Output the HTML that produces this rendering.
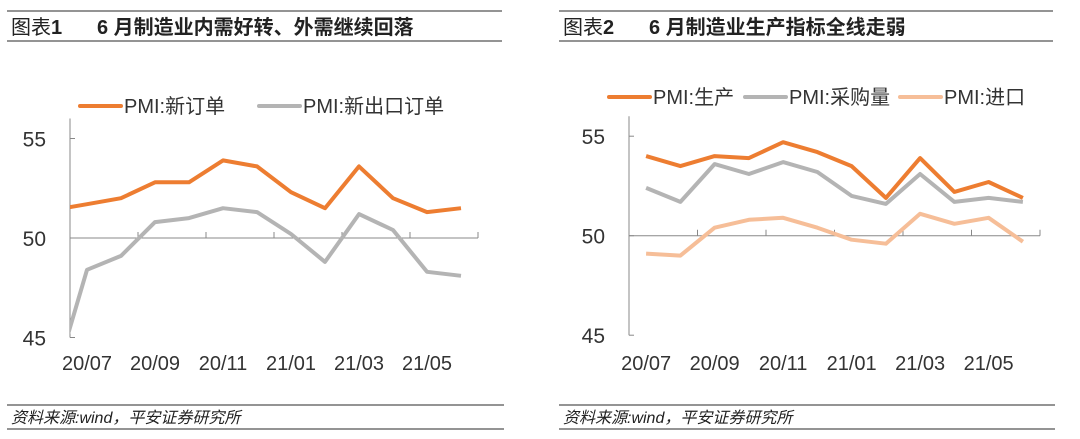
<!DOCTYPE html>
<html><head><meta charset="utf-8"><style>
body{margin:0;background:#fff;width:1080px;height:439px;overflow:hidden;font-family:"Liberation Sans","Noto Sans CJK SC",sans-serif}
svg{position:absolute;left:0;top:0}
</style></head><body>
<svg width="1080" height="439" xmlns="http://www.w3.org/2000/svg">
<g id="frame"></g>
<g id="c1"></g><g id="c2"></g>
</svg>
<script>
const categories=["20/06","20/07","20/08","20/09","20/10","20/11","20/12","21/01","21/02","21/03","21/04","21/05","21/06"];
const tickLabels=["20/07","20/09","20/11","21/01","21/03","21/05"];
const yTicks=[45,50,55];
const newOrders=[51.4,51.7,52.0,52.8,52.8,53.9,53.6,52.3,51.5,53.6,52.0,51.3,51.5];
const newExportOrders=[42.6,48.4,49.1,50.8,51.0,51.5,51.3,50.2,48.8,51.2,50.4,48.3,48.1];
const production=[null,54.0,53.5,54.0,53.9,54.7,54.2,53.5,51.9,53.9,52.2,52.7,51.9];
const purchases=[null,52.4,51.7,53.6,53.1,53.7,53.2,52.0,51.6,53.1,51.7,51.9,51.7];
const imports=[null,49.1,49.0,50.4,50.8,50.9,50.4,49.8,49.6,51.1,50.6,50.9,49.7];
const NS="http://www.w3.org/2000/svg";
function mk(p,t,a){const e=document.createElementNS(NS,t);for(const k in a)e.setAttribute(k,a[k]);p.appendChild(e);return e;}
const F=document.getElementById('frame');
[[7,502,"图表","1","6 月制造业内需好转、外需继续回落",1],[559,1053,"图表","2","6 月制造业生产指标全线走弱",2]].forEach(([x0,x1,a,num,b,n])=>{
  let l=mk(F,'line',{x1:x0,x2:x1,y1:11,y2:11,stroke:'#555','stroke-width':1.2});
  
  
  l=mk(F,'line',{x1:x0,x2:x1,y1:41,y2:41,stroke:'#555','stroke-width':1.2});
  
  
  let t=mk(F,'text',{x:x0+4,y:34,'font-size':20,fill:'#222'});
  t.innerHTML=a+'<tspan font-weight="bold">'+num+'</tspan>';
  
  
  t=mk(F,'text',{x:x0+90,y:34,'font-size':20,'font-weight':'bold',fill:'#222'});t.textContent=b;
  
  
  l=mk(F,'line',{x1:x0,x2:x1+2,y1:405,y2:405,stroke:'#555','stroke-width':1.2});
  
  
  l=mk(F,'line',{x1:x0,x2:x1+2,y1:429,y2:429,stroke:'#555','stroke-width':1.2});
  
  
  t=mk(F,'text',{x:x0+4,y:423,'font-size':16,'font-style':'italic',fill:'#222'});t.textContent="资料来源:wind，平安证券研究所";
  
  
});
function chart(g,o){
  const cw=(o.x1-o.x0)/12;
  const X=i=>o.x0+cw*(i-0.5);
  const Y=v=>o.y50-(v-50)*o.ppu;
  mk(g,'defs',{}).innerHTML=`<clipPath id="cl${o.id}"><rect x="${o.x0}" y="0" width="${o.x1-o.x0+5}" height="439"/></clipPath>`;
  let a=mk(g,'line',{x1:o.x0,x2:o.x0,y1:Y(55)-20,y2:Y(45),stroke:'#888','stroke-width':1});
  
  
  a=mk(g,'line',{x1:o.x0,x2:o.x1,y1:Y(50),y2:Y(50),stroke:'#888','stroke-width':1});
  
  
  yTicks.forEach(v=>{
    let t=mk(g,'line',{x1:o.x0,x2:o.x0+5,y1:Y(v),y2:Y(v),stroke:'#888'});
    
    
    let l=mk(g,'text',{x:o.x0-24,y:Y(v)+8,'font-size':21,'text-anchor':'end',fill:'#333'});l.textContent=v;
    
    
  });
  for(let k=0;k<=6;k++){
    let t=mk(g,'line',{x1:o.x0+cw*2*k,x2:o.x0+cw*2*k,y1:Y(50)-6,y2:Y(50),stroke:'#888'});
    
    
  }
  tickLabels.forEach(s=>{
    const i=categories.indexOf(s);
    let l=mk(g,'text',{x:X(i),y:370,'font-size':20,'text-anchor':'middle',fill:'#333'});l.textContent=s;
    
    
  });
  o.series.forEach(s=>{
    const pts=[];s.data.forEach((v,i)=>{if(v!=null)pts.push(X(i).toFixed(1)+','+Y(v).toFixed(1));});
    let p=mk(g,'polyline',{points:pts.join(' '),fill:'none',stroke:s.c,'stroke-width':4,'stroke-linejoin':'round','clip-path':`url(#cl${o.id})`});
    
    
    let ll=mk(g,'line',{x1:s.lx,x2:s.lx+41,y1:o.ly,y2:o.ly,stroke:s.c,'stroke-width':4,'stroke-linecap':'round'});
    
    
    let lt=mk(g,'text',{x:s.lx+44,y:o.ly+7,'font-size':20,fill:'#333'});lt.textContent=s.name;
    
    
  });
}
chart(document.getElementById('c1'),{id:1,x0:70,x1:478,y50:238,ppu:19.9,ly:106,series:[
  {key:'new-orders',name:'PMI:新订单',data:newOrders,c:'#ED7D31',lx:80},
  {key:'new-export-orders',name:'PMI:新出口订单',data:newExportOrders,c:'#B4B4B4',lx:259}]});
chart(document.getElementById('c2'),{id:2,x0:629,x1:1040,y50:235.7,ppu:19.9,ly:97,series:[
  {key:'production',name:'PMI:生产',data:production,c:'#ED7D31',lx:609},
  {key:'purchases',name:'PMI:采购量',data:purchases,c:'#B4B4B4',lx:745},
  {key:'imports',name:'PMI:进口',data:imports,c:'#F6BE98',lx:900}]});
</script>
</body></html>
